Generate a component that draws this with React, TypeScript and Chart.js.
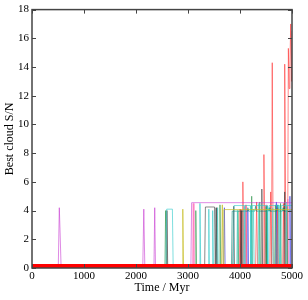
import React, { useEffect, useRef } from "react";
import { Chart, registerables } from "chart.js";

Chart.register(...registerables);

// x-axis / y-axis tick values
const xTicks = [0, 1000, 2000, 3000, 4000, 5000];
const yTicks = [0, 2, 4, 6, 8, 10, 12, 14, 16, 18];

// Baseline (all runs sitting at ~0)
const baseT = [0, 5000];
const baseV = [0.1, 0.1];

// Red runs
const redT = [0, 3985, 4000, 4015, 4040, 4055, 4075, 4100, 4115, 4130, 4300, 4320, 4340, 4445, 4460, 4480, 4575, 4590, 4605, 4610, 4620, 4640, 4700, 4715, 4730, 4820, 4835, 4850, 4855, 4865, 4885, 4915, 4930, 4945, 4960, 4975, 4990, 5000];
const redV = [0, 0, 4.1, 0, 0, 6.0, 0, 0, 4.4, 0, 0, 4.6, 0, 0, 7.9, 0, 0, 5.3, 0, 0, 14.3, 0, 0, 4.2, 0, 0, 4.5, 0, 0, 14.2, 0, 0, 15.3, 12.5, 14.0, 17.0, 13.0, 16.5];

// Magenta / violet runs
const magT = [0, 505, 525, 540, 560, 2130, 2150, 2170, 2345, 2360, 2375, 3055, 3070, 5000];
const magV = [0, 0, 4.2, 2.5, 0, 0, 4.1, 0, 0, 4.2, 0, 0, 4.55, 4.55];

// Cyan runs
const cyanT = [0, 2575, 2590, 2700, 2715, 3215, 3230, 3245, 3390, 3400, 3410, 3465, 3475, 3490, 3870, 3885, 4200, 4210, 4225, 4235, 4520, 4530, 4550, 4560, 4760, 4770, 4785, 4795, 5000];
const cyanV = [0, 0, 4.1, 4.1, 0, 0, 4.5, 0, 0, 4.1, 0, 0, 4.0, 0, 0, 4.35, 4.35, 0, 0, 4.35, 4.35, 0, 0, 4.35, 4.35, 0, 0, 4.35, 4.35];

// Second cyan / turquoise runs
const cyan2T = [0, 3555, 3570, 3585, 3935, 3950, 3965, 4065, 4080, 4095, 4245, 4260, 4275, 4345, 4360, 4375, 4615, 4630, 4645, 4725, 4740, 4755, 4875, 4890, 4905];
const cyan2V = [0, 0, 4.2, 0, 0, 4.0, 0, 0, 4.3, 0, 0, 4.1, 0, 0, 4.5, 0, 0, 4.2, 0, 0, 4.4, 0, 0, 4.6, 0];

// Grey / black runs
const grayT = [0, 2580, 2595, 2610, 3320, 3335, 3510, 3525, 3540, 3555, 3570, 3860, 3880, 3895, 4005, 4020, 4035, 4405, 4420, 4435, 4845, 4860, 4875];
const grayV = [0, 0, 4.0, 0, 0, 4.25, 4.25, 0, 4.2, 0, 0, 0, 4.3, 0, 0, 4.0, 0, 0, 5.5, 0, 0, 5.3, 0];

// Green runs
const greenT = [0, 2555, 2570, 2585, 3135, 3150, 3165, 3600, 3615, 3630, 3945, 3960, 3975, 4210, 4225, 4240, 4365, 4380, 4395, 4485, 4500, 4515, 4665, 4680, 4695, 4765, 4780, 4795, 4885, 4900, 4915];
const greenV = [0, 0, 4.0, 0, 0, 4.0, 0, 0, 4.4, 0, 0, 4.0, 0, 0, 5.0, 0, 0, 4.6, 0, 0, 4.3, 0, 0, 4.4, 0, 0, 4.5, 0, 0, 4.3, 0];

// Teal runs
const tealT = [0, 3835, 3850, 4135, 4150, 4165, 4285, 4300, 4315, 4545, 4560, 4575, 4705, 4720, 4735, 4815, 4830, 4845, 5000];
const tealV = [0, 0, 3.96, 3.96, 4.2, 3.96, 3.96, 4.3, 3.96, 3.96, 4.2, 3.96, 3.96, 4.4, 3.96, 3.96, 4.2, 3.96, 3.96];

// Yellow / olive runs
const yellowT = [0, 2885, 2900, 2915, 3645, 3660, 3675, 3690, 5000];
const yellowV = [0, 0, 4.1, 0, 0, 4.4, 0, 4.07, 4.07];

// Blue runs
const blueT = [0, 3685, 3700, 3715, 4135, 4150, 4165, 4685, 4700, 4715, 4945, 4960, 4975];
const blueV = [0, 0, 4.2, 0, 0, 4.1, 0, 0, 4.6, 0, 0, 5.0, 0];

// Pink runs
const pinkT = [0, 3085, 3100, 3115, 4085, 4100, 4115, 4485, 4500, 4515, 4905, 4920, 4935];
const pinkV = [0, 0, 4.5, 0, 0, 4.3, 0, 0, 4.4, 0, 0, 4.8, 0];

const toPts = (t: number[], v: number[]) => t.map((x, i) => ({ x, y: v[i] }));

const FONT = "'Liberation Serif', 'DejaVu Serif', serif";

const framePlugin = {
  id: "frame",
  afterDatasetsDraw(chart: any) {
    const { ctx, chartArea } = chart;
    const { left, right, top, bottom } = chartArea;
    const xs = chart.scales.x;
    const ys = chart.scales.y;
    ctx.save();
    ctx.strokeStyle = "#444";
    ctx.lineWidth = 1;
    const L = 4;
    xTicks.forEach((v) => {
      const p = Math.round(xs.getPixelForValue(v)) + 0.5;
      ctx.beginPath();
      ctx.moveTo(p, bottom);
      ctx.lineTo(p, bottom - L);
      ctx.moveTo(p, top);
      ctx.lineTo(p, top + L);
      ctx.stroke();
    });
    yTicks.forEach((v) => {
      const p = Math.round(ys.getPixelForValue(v)) + 0.5;
      ctx.beginPath();
      ctx.moveTo(left, p);
      ctx.lineTo(left + L, p);
      ctx.moveTo(right, p);
      ctx.lineTo(right - L, p);
      ctx.stroke();
    });
    ctx.lineWidth = 1.5;
    ctx.strokeRect(left, top, right - left, bottom - top);
    ctx.restore();
  },
};

export default function App() {
  const ref = useRef<HTMLCanvasElement | null>(null);
  useEffect(() => {
    if (!ref.current) return;
    const line = (label: string, t: number[], v: number[], color: string, width = 1) => ({
      label,
      data: toPts(t, v),
      borderColor: color,
      borderWidth: width,
      pointRadius: 0,
      tension: 0,
      fill: false,
    });
    const chart = new Chart(ref.current, {
      type: "line",
      data: {
        datasets: [
          line("base", baseT, baseV, "#ff0000", 5),
          line("magenta", magT, magV, "rgba(200,60,210,0.6)"),
          line("yellow", yellowT, yellowV, "rgba(200,190,40,0.7)"),
          line("cyan", cyanT, cyanV, "rgba(40,200,200,0.6)"),
          line("cyan2", cyan2T, cyan2V, "rgba(60,210,200,0.55)"),
          line("gray", grayT, grayV, "rgba(60,60,60,0.6)"),
          line("green", greenT, greenV, "rgba(30,140,60,0.55)"),
          line("teal", tealT, tealV, "rgba(0,140,120,0.6)"),
          line("blue", blueT, blueV, "rgba(60,60,230,0.6)"),
          line("pink", pinkT, pinkV, "rgba(255,100,180,0.55)"),
          line("red", redT, redV, "rgba(255,40,40,0.55)"),
        ],
      },
      options: {
        responsive: false,
        animation: false,
        parsing: true,
        layout: { padding: { top: 9, right: 16, left: 0, bottom: 5 } },
        plugins: { legend: { display: false }, tooltip: { enabled: false } },
        scales: {
          x: {
            type: "linear",
            min: 0,
            max: 5000,
            afterBuildTicks: (s: any) => {
              s.ticks = xTicks.map((value) => ({ value }));
            },
            afterFit: (s: any) => {
              s.height = 27;
            },
            ticks: {
              color: "#000",
              font: { family: FONT, size: 11 },
              padding: 2,
              maxRotation: 0,
              callback: (v: any) => String(v),
            },
            grid: { display: false, drawTicks: false },
            border: { display: false },
            title: { display: true, text: "Time / Myr", color: "#000", font: { family: FONT, size: 12 }, padding: 0 },
          },
          y: {
            type: "linear",
            min: 0,
            max: 18,
            afterBuildTicks: (s: any) => {
              s.ticks = yTicks.map((value) => ({ value }));
            },
            afterFit: (s: any) => {
              s.width = 32;
            },
            ticks: { color: "#000", font: { family: FONT, size: 11 }, padding: 3, callback: (v: any) => String(v) },
            grid: { display: false, drawTicks: false },
            border: { display: false },
            title: {
              display: true,
              text: "Best cloud S/N",
              color: "#000",
              font: { family: FONT, size: 12 },
              padding: { top: 3, bottom: 0 },
            },
          },
        },
      },
      plugins: [framePlugin],
    } as any);
    return () => chart.destroy();
  }, []);
  return (
    <div style={{ position: "fixed", left: 0, top: 0, width: 308, height: 300, background: "#fff" }}>
      <canvas ref={ref} width={308} height={300} />
    </div>
  );
}
